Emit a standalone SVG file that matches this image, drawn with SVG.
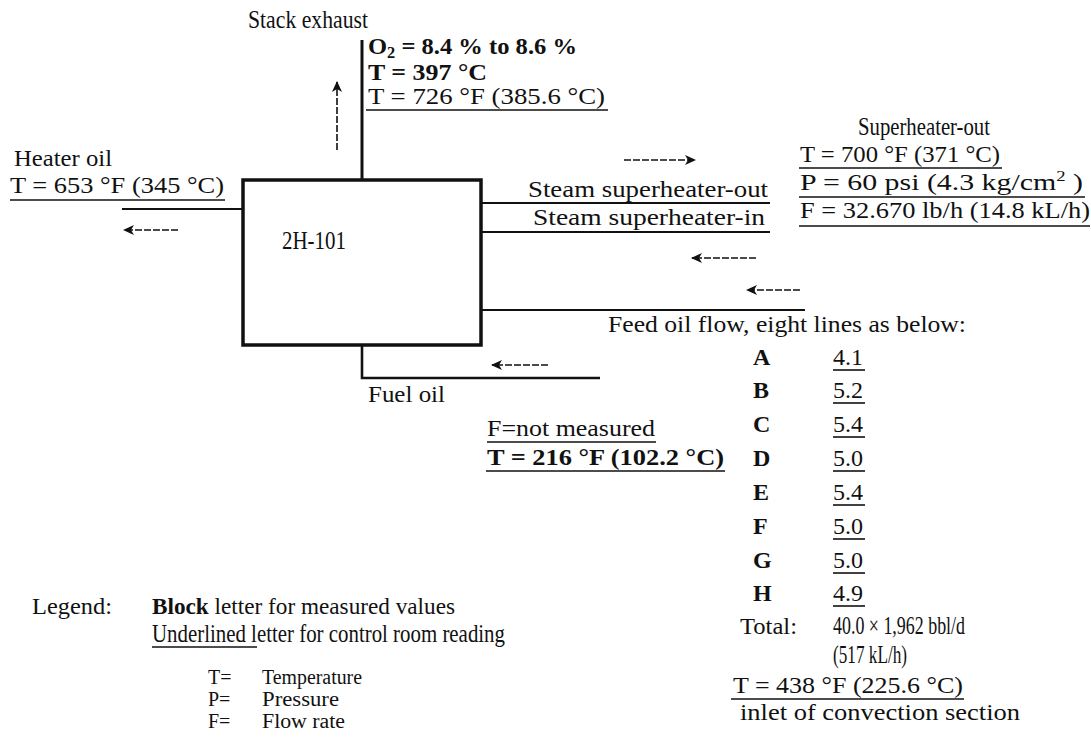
<svg xmlns="http://www.w3.org/2000/svg" width="1091" height="742" viewBox="0 0 1091 742">
<style>
text{font-family:"Liberation Serif","Times New Roman",serif;font-size:24px;fill:#111}
.b{font-weight:bold}
.sm{font-size:20px}
.tall{font-size:26px}
.ln{stroke:#111;stroke-width:2.2;fill:none}
.ul{stroke:#111;stroke-width:1.6;fill:none}
.ar{stroke:#111;stroke-width:1.6;fill:none;stroke-dasharray:7 2}
</style>
<defs>
<marker id="ah" markerWidth="12" markerHeight="10" refX="10" refY="5" orient="auto" markerUnits="userSpaceOnUse">
<path d="M0,0 L11,5 L0,10 L3,5 z" fill="#111"/>
</marker>
</defs>
<rect width="1091" height="742" fill="#fff"/>

<g id="connectors">
<line class="ln" x1="362" y1="40" x2="362" y2="180" style="stroke-width:3"/>
<line class="ar" x1="337" y1="150" x2="337" y2="82" marker-end="url(#ah)"/>
<line class="ln" x1="122" y1="209" x2="243" y2="209"/>
<line class="ar" x1="178" y1="230" x2="124" y2="230" marker-end="url(#ah)"/>
<line class="ln" x1="481" y1="203" x2="770" y2="203"/>
<line class="ln" x1="481" y1="232" x2="770" y2="232"/>
<line class="ar" x1="624" y1="160" x2="695" y2="160" marker-end="url(#ah)"/>
<line class="ar" x1="756" y1="258" x2="692" y2="258" marker-end="url(#ah)"/>
<line class="ar" x1="800" y1="290" x2="747" y2="290" marker-end="url(#ah)"/>
<line class="ln" x1="481" y1="310" x2="805" y2="310"/>
<polyline class="ln" points="362,345 362,378 600,378" style="stroke-width:2.6"/>
<line class="ar" x1="548" y1="365" x2="492" y2="365" marker-end="url(#ah)"/>
</g>

<g id="heater-2H-101">
<rect x="243" y="180" width="238" height="165" fill="none" stroke="#111" stroke-width="3.5"/>
<text x="282" y="249" class="tall" textLength="64" lengthAdjust="spacingAndGlyphs">2H-101</text>
</g>

<g id="stack-exhaust">
<text x="248" y="28" class="tall" textLength="120" lengthAdjust="spacingAndGlyphs">Stack exhaust</text>
<text x="368" y="54" class="b" textLength="209" lengthAdjust="spacingAndGlyphs">O<tspan font-size="16" dy="4">2</tspan><tspan dy="-4"> = 8.4 % to 8.6 %</tspan></text>
<text x="368" y="80" class="b" textLength="119" lengthAdjust="spacingAndGlyphs">T = 397 °C</text>
<text x="368" y="104" textLength="237" lengthAdjust="spacingAndGlyphs">T = 726 °F (385.6 °C)</text>
<line class="ul" x1="366" y1="110" x2="608" y2="110"/>
</g>

<g id="heater-oil">
<text x="14" y="166" textLength="98" lengthAdjust="spacingAndGlyphs">Heater oil</text>
<text x="10" y="193" textLength="214" lengthAdjust="spacingAndGlyphs">T = 653 °F (345 °C)</text>
<line class="ul" x1="10" y1="200" x2="225" y2="200"/>
</g>

<g id="steam">
<text x="528" y="197" textLength="240" lengthAdjust="spacingAndGlyphs">Steam superheater-out</text>
<text x="533" y="225" textLength="232" lengthAdjust="spacingAndGlyphs">Steam superheater-in</text>
<text x="858" y="135" class="tall" textLength="132" lengthAdjust="spacingAndGlyphs">Superheater-out</text>
<text x="800" y="162" textLength="200" lengthAdjust="spacingAndGlyphs">T = 700 °F (371 °C)</text>
<line class="ul" x1="799" y1="168" x2="1002" y2="168"/>
<text x="800" y="190" textLength="283" lengthAdjust="spacingAndGlyphs">P = 60 psi (4.3 kg/cm<tspan font-size="15" dy="-9">2</tspan><tspan dy="9"> )</tspan></text>
<line class="ul" x1="799" y1="197" x2="1085" y2="197"/>
<text x="800" y="218" textLength="290" lengthAdjust="spacingAndGlyphs">F = 32.670 lb/h (14.8 kL/h)</text>
<line class="ul" x1="799" y1="226" x2="1090" y2="226"/>
</g>

<g id="fuel-oil">
<text x="368" y="402" textLength="77" lengthAdjust="spacingAndGlyphs">Fuel oil</text>
<text x="487" y="436" textLength="168" lengthAdjust="spacingAndGlyphs">F=not measured</text>
<line class="ul" x1="487" y1="442" x2="656" y2="442"/>
<text x="487" y="465" class="b" textLength="237" lengthAdjust="spacingAndGlyphs">T = 216 °F (102.2 °C)</text>
<line class="ul" x1="486" y1="471" x2="725" y2="471"/>
</g>

<g id="feed-oil">
<text x="608" y="332" textLength="358" lengthAdjust="spacingAndGlyphs">Feed oil flow, eight lines as below:</text>
<text x="753" y="365" class="b">A</text>
<text x="753" y="398" class="b">B</text>
<text x="753" y="432" class="b">C</text>
<text x="753" y="466" class="b">D</text>
<text x="753" y="500" class="b">E</text>
<text x="753" y="534" class="b">F</text>
<text x="753" y="568" class="b">G</text>
<text x="753" y="601" class="b">H</text>
<text x="833" y="365">4.1</text><line class="ul" x1="833" y1="370" x2="865" y2="370"/>
<text x="833" y="398">5.2</text><line class="ul" x1="833" y1="403" x2="865" y2="403"/>
<text x="833" y="432">5.4</text><line class="ul" x1="833" y1="437" x2="865" y2="437"/>
<text x="833" y="466">5.0</text><line class="ul" x1="833" y1="471" x2="865" y2="471"/>
<text x="833" y="500">5.4</text><line class="ul" x1="833" y1="505" x2="865" y2="505"/>
<text x="833" y="534">5.0</text><line class="ul" x1="833" y1="539" x2="865" y2="539"/>
<text x="833" y="568">5.0</text><line class="ul" x1="833" y1="573" x2="865" y2="573"/>
<text x="833" y="601">4.9</text><line class="ul" x1="833" y1="606" x2="865" y2="606"/>
<text x="740" y="634" textLength="57" lengthAdjust="spacingAndGlyphs">Total:</text>
<text x="833" y="634" class="tall" textLength="132" lengthAdjust="spacingAndGlyphs">40.0 × 1,962 bbl/d</text>
<text x="833" y="663" class="tall" textLength="74" lengthAdjust="spacingAndGlyphs">(517 kL/h)</text>
<text x="733" y="693" textLength="230" lengthAdjust="spacingAndGlyphs">T = 438 °F (225.6 °C)</text>
<line class="ul" x1="731" y1="699" x2="964" y2="699"/>
<text x="740" y="720" textLength="280" lengthAdjust="spacingAndGlyphs">inlet of convection section</text>
</g>

<g id="legend">
<text x="32" y="614" textLength="80" lengthAdjust="spacingAndGlyphs">Legend:</text>
<text x="152" y="614" textLength="303" lengthAdjust="spacingAndGlyphs"><tspan class="b">Block</tspan> letter for measured values</text>
<text x="152" y="642" class="tall" textLength="353" lengthAdjust="spacingAndGlyphs">Underlined letter for control room reading</text>
<line class="ul" x1="152" y1="647" x2="257" y2="647"/>
<text x="208" y="684" class="sm">T=</text>
<text x="262" y="684" class="sm" textLength="100" lengthAdjust="spacingAndGlyphs">Temperature</text>
<text x="208" y="706" class="sm">P=</text>
<text x="262" y="706" class="sm" textLength="77" lengthAdjust="spacingAndGlyphs">Pressure</text>
<text x="208" y="728" class="sm">F=</text>
<text x="262" y="728" class="sm" textLength="83" lengthAdjust="spacingAndGlyphs">Flow rate</text>
</g>
</svg>
